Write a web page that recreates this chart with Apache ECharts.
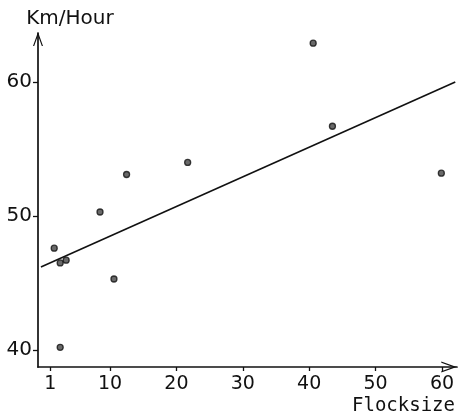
<!DOCTYPE html>
<html>
<head>
<meta charset="utf-8">
<title>Flocksize vs speed</title>
<script src="https://cdn.jsdelivr.net/npm/echarts@6/dist/echarts.min.js"></script>
<style>
  html, body { margin: 0; padding: 0; background: #fff; }
  #main { width: 462px; height: 416px; }
</style>
</head>
<body>
<div id="main"></div>
<script>
// flock size (x) and speed in km/h (y)
var flockSize = [1.6, 2.5, 3.4, 2.5, 8.5, 10.6, 12.5, 21.7, 40.6, 43.5, 59.9];
var speed     = [47.6, 46.5, 46.7, 40.2, 50.3, 45.3, 53.1, 54.0, 62.9, 56.7, 53.2];
// fitted line, two end points
var fitX = [-0.4, 62.0];
var fitY = [46.2, 60.0];
var xTicks = [1, 10, 20, 30, 40, 50, 60];
var yTicks = [40, 50, 60];

var points = flockSize.map(function (x, i) { return [x, speed[i]]; });
var fitLine = fitX.map(function (x, i) { return [x, fitY[i]]; });

// open arrow head, tip at top
var chevron = 'path://M0,14 L5,0 L10,14 L8.8,14 L5,3.4 L1.2,14 Z';

var myChart = echarts.init(document.getElementById('main'));
var option = {
    animation: false,
    backgroundColor: '#fff',
    grid: { left: 38, right: 5, top: 33, bottom: 49, containLabel: false },
    xAxis: {
        type: 'value',
        min: -0.84,
        max: 62.26,
        name: 'Flocksize',
        nameLocation: 'end',
        nameGap: -2,
        nameTextStyle: {
            fontFamily: 'DejaVu Sans Mono', fontSize: 19, color: '#111',
            align: 'right', verticalAlign: 'top', padding: [30, 0, 0, 0]
        },
        splitLine: { show: false },
        axisLine: {
            onZero: false,
            lineStyle: { color: '#111', width: 1.7 },
            symbol: ['none', chevron],
            symbolSize: [11, 17],
            symbolOffset: [0, -8]
        },
        axisTick: { customValues: xTicks, length: 4, lineStyle: { color: '#111', width: 1.3 } },
        axisLabel: {
            customValues: xTicks, margin: 8,
            fontFamily: 'DejaVu Sans', fontSize: 19, color: '#111'
        }
    },
    yAxis: {
        type: 'value',
        min: 38.73,
        max: 63.66,
        name: 'Km/Hour',
        nameLocation: 'end',
        nameGap: 4,
        nameTextStyle: {
            fontFamily: 'DejaVu Sans', fontSize: 20, color: '#111',
            align: 'center', padding: [0, 0, 0, 64]
        },
        splitLine: { show: false },
        axisLine: {
            onZero: false,
            lineStyle: { color: '#111', width: 1.7 },
            symbol: ['none', chevron],
            symbolSize: [10, 14],
            symbolOffset: [0, -6]
        },
        axisTick: { customValues: yTicks, length: 5, lineStyle: { color: '#111', width: 1.3 } },
        axisLabel: {
            customValues: yTicks, margin: 6,
            fontFamily: 'DejaVu Sans', fontSize: 20, color: '#111'
        }
    },
    series: [
        {
            type: 'line',
            data: fitLine,
            symbol: 'none',
            lineStyle: { color: '#111', width: 1.6 },
            silent: true
        },
        {
            type: 'scatter',
            data: points,
            symbol: 'circle',
            symbolSize: 6,
            itemStyle: { color: '#444', borderColor: '#111', borderWidth: 1.3 }
        }
    ]
};
myChart.setOption(option);
</script>
</body>
</html>
